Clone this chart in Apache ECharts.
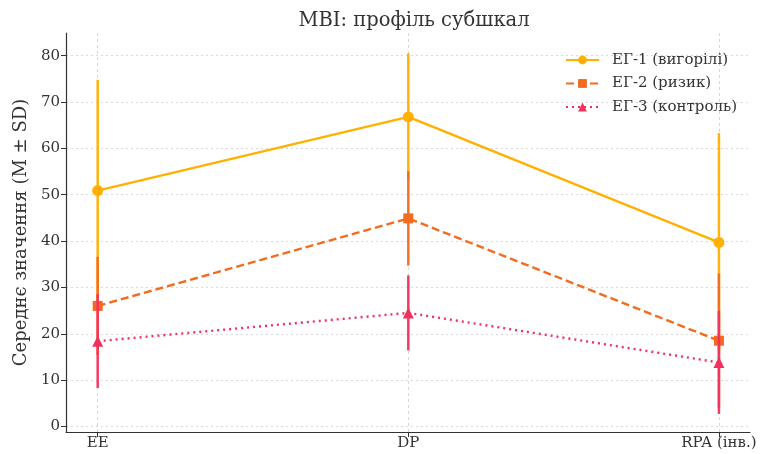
<!DOCTYPE html>
<html><head><meta charset="utf-8">
<script src="https://cdn.jsdelivr.net/npm/echarts@6/dist/echarts.min.js"></script>
<style>html,body{margin:0;padding:0;background:#fff}#c{width:762px;height:454px}</style>
</head><body><div id="c"></div>
<script>
const categories = ['EE', 'DP', 'RPA (інв.)'];
const groupNames = ['ЕГ-1 (вигорілі)', 'ЕГ-2 (ризик)', 'ЕГ-3 (контроль)'];
const eg1Mean = [50.9, 66.8, 39.7];
const eg1SD = [23.9, 13.7, 23.6];
const eg2Mean = [26.0, 44.9, 18.5];
const eg2SD = [10.6, 10.2, 14.5];
const eg3Mean = [18.4, 24.5, 13.8];
const eg3SD = [10.1, 8.1, 11.1];
const yTicks = [0, 10, 20, 30, 40, 50, 60, 70, 80];

const colors = ['#FFB000', '#F46A1E', '#F2305F'];
const means = [eg1Mean, eg2Mean, eg3Mean];
const sds = [eg1SD, eg2SD, eg3SD];
const symbols = ['circle', 'rect', 'triangle'];
const symSizes = [11, 10, 11];
const dashes = ['solid', [8, 4], [2, 4]];
const FONT = 'DejaVu Serif';

const series = [];
for (let g = 0; g < 3; g++) {
  const errData = categories.map((c, i) => [i, means[g][i] - sds[g][i], means[g][i] + sds[g][i]]);
  series.push({
    type: 'custom',
    name: groupNames[g] + '_err',
    z: 2 + g * 2,
    silent: true,
    data: errData,
    encode: { x: 0, y: [1, 2] },
    renderItem: function (params, api) {
      const x = api.value(0);
      const p1 = api.coord([x, api.value(1)]);
      const p2 = api.coord([x, api.value(2)]);
      return {
        type: 'line',
        shape: { x1: p1[0], y1: p1[1], x2: p2[0], y2: p2[1] },
        style: { stroke: colors[g], lineWidth: 2.5, opacity: 0.95 }
      };
    }
  });
  series.push({
    type: 'line',
    name: groupNames[g],
    z: 3 + g * 2,
    data: categories.map((c, i) => [i, means[g][i]]),
    symbol: symbols[g],
    symbolSize: symSizes[g],
    showAllSymbol: true,
    lineStyle: { color: colors[g], width: 2.4, type: dashes[g] },
    itemStyle: { color: colors[g] },
    emphasis: { disabled: true },
    animation: false
  });
}

const chart = echarts.init(document.getElementById('c'), null, { renderer: 'canvas' });
chart.setOption({
  animation: false,
  backgroundColor: '#fff',
  textStyle: { fontFamily: FONT },
  title: {
    text: 'MBI: профіль субшкал',
    left: 409, top: 6, textAlign: 'center',
    textStyle: { fontFamily: FONT, fontSize: 19.5, fontWeight: 'normal', color: '#333' }
  },
  legend: {
    orient: 'vertical',
    right: 20, top: 47,
    itemWidth: 33, itemHeight: 11, itemGap: 7.5,
    data: groupNames,
    textStyle: { fontFamily: FONT, fontSize: 15, lineHeight: 16, height: 16, color: '#333', padding: [0, 0, 0, 8] }
  },
  grid: { left: 66, right: 12, top: 33, bottom: 22, containLabel: false },
  xAxis: {
    type: 'value', min: -0.102, max: 2.1,
    axisLine: { show: true, onZero: false, lineStyle: { color: '#333', width: 1.2 } },
    axisTick: { show: true, customValues: [0, 1, 2], length: 5, lineStyle: { color: '#333' } },
    axisLabel: {
      customValues: [0, 1, 2],
      formatter: v => categories[Math.round(v)],
      fontFamily: FONT, fontSize: 15, color: '#333', margin: 4
    },
    splitLine: { show: true, lineStyle: { color: '#cfcfcf', width: 0.8, type: [3, 3] } }
  },
  yAxis: {
    type: 'value', min: -1.2, max: 84.9,
    name: 'Середнє значення (M ± SD)',
    nameLocation: 'middle', nameGap: 34,
    nameTextStyle: { fontFamily: FONT, fontSize: 18, color: '#333' },
    axisLine: { show: true, onZero: false, lineStyle: { color: '#333', width: 1.2 } },
    axisTick: { show: true, customValues: yTicks, length: 5, lineStyle: { color: '#333' } },
    axisLabel: { customValues: yTicks, fontFamily: FONT, fontSize: 15, color: '#333', margin: 6 },
    splitLine: { show: true, lineStyle: { color: '#cfcfcf', width: 0.8, type: [2, 3] } }
  },
  series: series
});
</script></body></html>
